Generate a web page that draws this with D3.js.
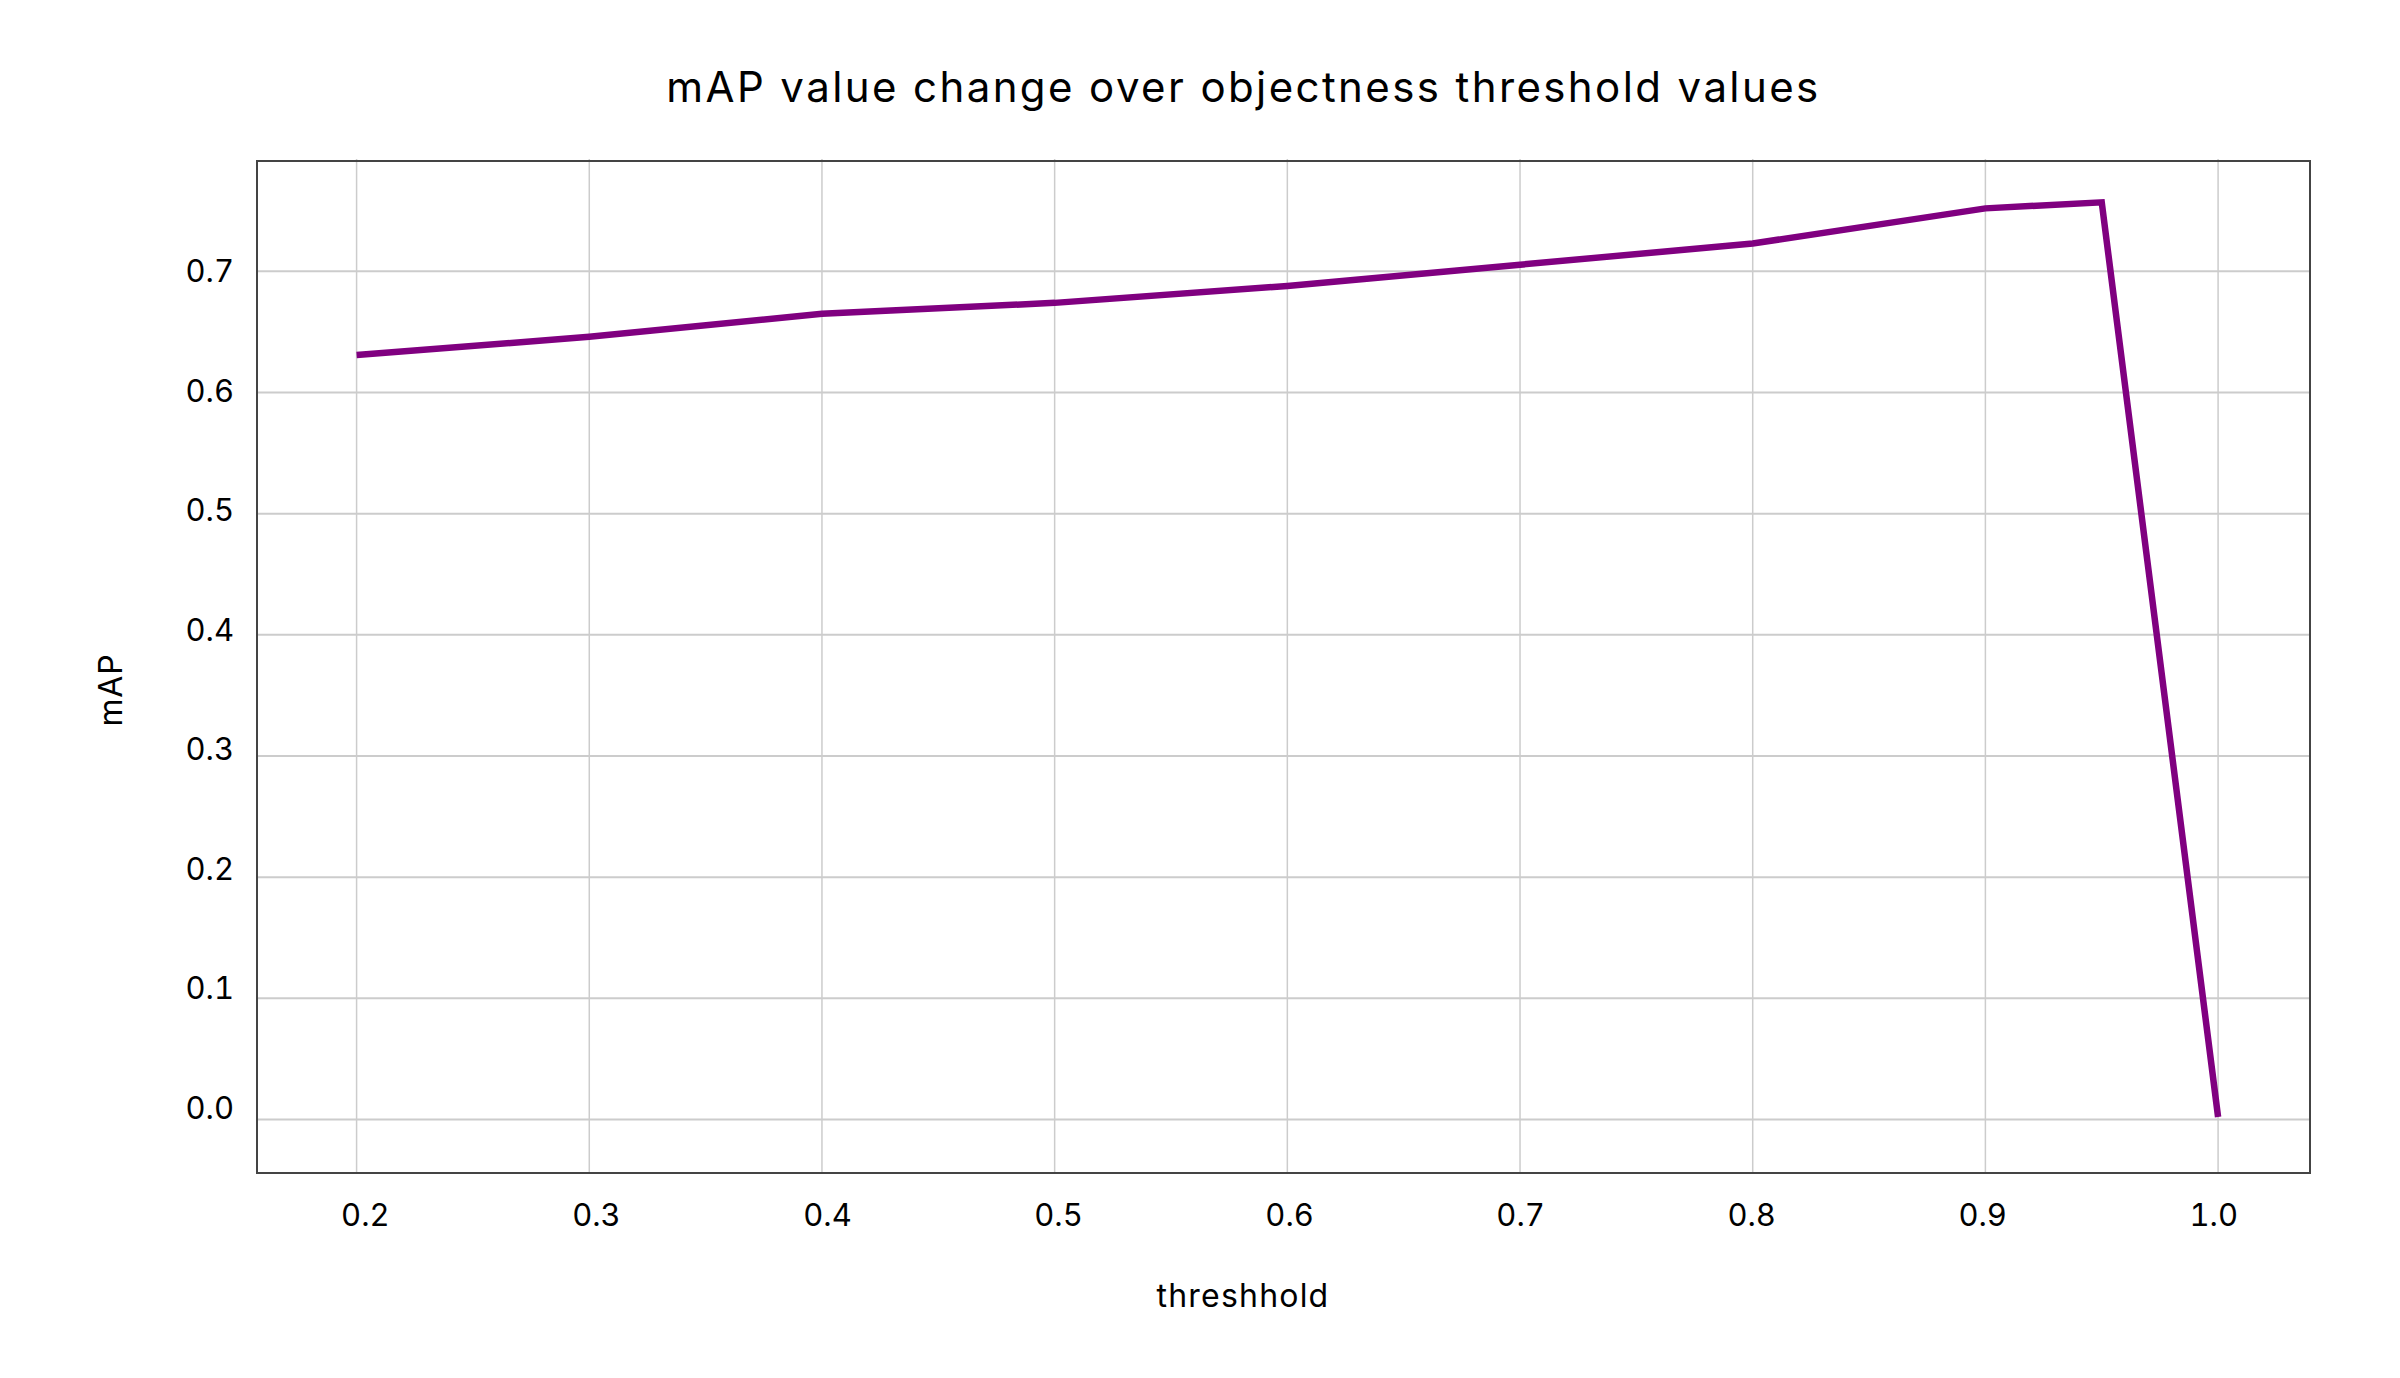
<!DOCTYPE html>
<html>
<head>
  <meta charset="utf-8">
  <script src="https://d3js.org/d3.v7.min.js"></script>
  <style>
    body {
      margin: 0;
      background: #fff;
      font-family: 'Inter', sans-serif;
    }
    .grid line {
      stroke: #cccccc;
    }
    .tick-label {
      font-size: 31px;
      fill: #000;
      font-variant-numeric: tabular-nums;
      font-feature-settings: "tnum";
    }
  </style>
</head>
<body>
<script type="text/javascript">
  "use strict";

  /* data */
  var thresholds = [0.2, 0.3, 0.4, 0.5, 0.6, 0.7, 0.8, 0.9, 0.95, 1.0];
  var mapValues = [0.631, 0.646, 0.665, 0.674, 0.688, 0.7055, 0.723, 0.752, 0.757, 0.002];
  var xTicks = [0.2, 0.3, 0.4, 0.5, 0.6, 0.7, 0.8, 0.9, 1.0];
  var yTicks = [0.0, 0.1, 0.2, 0.3, 0.4, 0.5, 0.6, 0.7];

  var width = 2400,
      height = 1378;
  var plot = { left: 257, right: 2310, top: 161, bottom: 1173 };

  var svg = d3.select("body")
    .append("svg")
      .attr("width", width)
      .attr("height", height);

  svg.append("rect")
    .attr("width", width)
    .attr("height", height)
    .attr("fill", "#fff");

  var x = d3.scaleLinear()
    .domain([0.1572, 1.0395])
    .range([plot.left, plot.right]);

  var y = d3.scaleLinear()
    .domain([-0.0442, 0.7911])
    .range([plot.bottom, plot.top]);

  // tick labels sit on a slightly tighter layout than the grid
  var xLab = d3.scaleLinear()
    .domain(x.domain())
    .range([266.5, 2305]);
  var yLab = d3.scaleLinear()
    .domain(y.domain())
    .range([1160.6, 162.2]);

  var fmt = d3.format(".1f");

  // grid
  var grid = svg.append("g").attr("class", "grid");
  grid.selectAll(".vgrid")
    .data(xTicks)
    .enter()
    .append("line")
      .attr("x1", function (d) { return x(d); })
      .attr("x2", function (d) { return x(d); })
      .attr("y1", plot.top - 2)
      .attr("y2", plot.bottom)
      .attr("stroke-width", 1.5);

  grid.selectAll(".hgrid")
    .data(yTicks)
    .enter()
    .append("line")
      .attr("x1", plot.left)
      .attr("x2", plot.right)
      .attr("y1", function (d) { return y(d); })
      .attr("y2", function (d) { return y(d); })
      .attr("stroke-width", 2);

  // frame
  svg.append("rect")
    .attr("x", plot.left)
    .attr("y", plot.top)
    .attr("width", plot.right - plot.left)
    .attr("height", plot.bottom - plot.top)
    .attr("fill", "none")
    .attr("stroke", "#444")
    .attr("stroke-width", 2);

  // line
  var line = d3.line()
    .x(function (d) { return x(d[0]); })
    .y(function (d) { return y(d[1]); });

  svg.append("path")
    .datum(d3.zip(thresholds, mapValues))
    .attr("d", line)
    .attr("fill", "none")
    .attr("stroke", "#800080")
    .attr("stroke-width", 6.5)
    .attr("stroke-linejoin", "miter");

  // tick labels
  svg.selectAll(".xlab")
    .data(xTicks)
    .enter()
    .append("text")
      .attr("class", "tick-label")
      .attr("x", function (d) { return xLab(d); })
      .attr("y", 1226)
      .attr("text-anchor", "middle")
      .text(function (d) { return fmt(d); });

  svg.selectAll(".ylab")
    .data(yTicks)
    .enter()
    .append("text")
      .attr("class", "tick-label")
      .attr("x", 234)
      .attr("y", function (d) { return yLab(d) + 11; })
      .attr("text-anchor", "end")
      .text(function (d) { return fmt(d); });

  // titles
  svg.append("text")
    .attr("x", 1243.5)
    .attr("y", 102)
    .attr("text-anchor", "middle")
    .attr("font-size", "42px")
    .attr("letter-spacing", "2.4px")
    .text("mAP value change over objectness threshold values");

  svg.append("text")
    .attr("x", 1243)
    .attr("y", 1307)
    .attr("text-anchor", "middle")
    .attr("font-size", "32px")
    .attr("letter-spacing", "1.2px")
    .text("threshhold");

  svg.append("text")
    .attr("transform", "translate(122,690) rotate(-90)")
    .attr("text-anchor", "middle")
    .attr("font-size", "32px")
    .attr("letter-spacing", "0.8px")
    .text("mAP");
</script>
</body>
</html>
